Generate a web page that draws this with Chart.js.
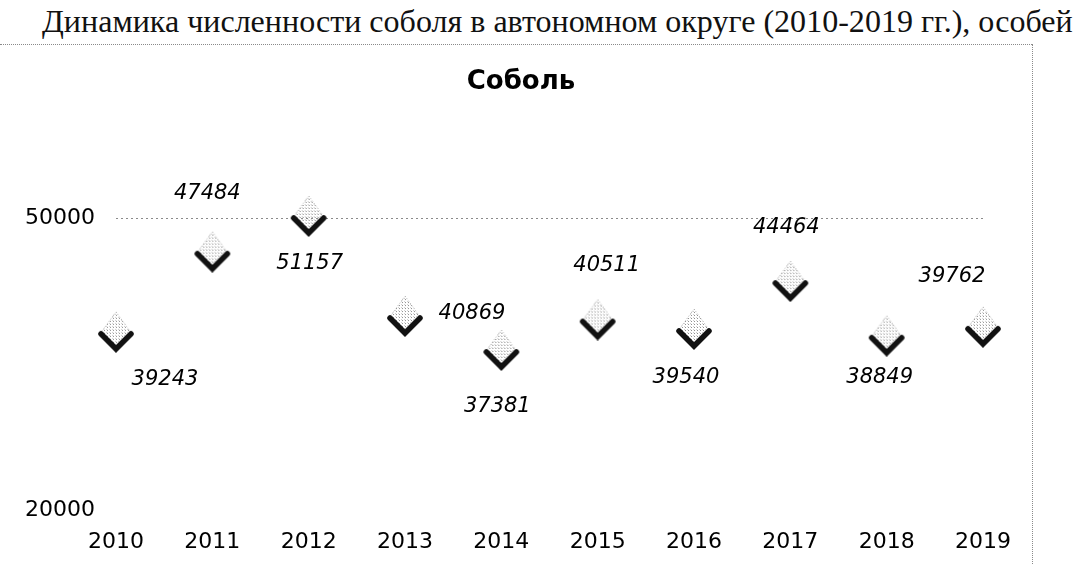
<!DOCTYPE html>
<html>
<head>
<meta charset="utf-8">
<script src="https://cdn.jsdelivr.net/npm/chart.js@4"></script>
<style>
  html, body { margin: 0; padding: 0; background: #fff; }
  body { width: 1077px; height: 564px; position: relative; overflow: hidden; }
  #header {
    position: absolute; left: 42px; top: 7px;
    font-family: "Liberation Serif", "Times New Roman", serif;
    font-size: 29px; line-height: 1; white-space: nowrap; color: #111;
  }
  #title {
    position: absolute; left: 421px; width: 200px; top: 64px;
    text-align: center; line-height: 32px;
    font-family: "DejaVu Sans", sans-serif; font-size: 26px; font-weight: bold; color: #000;
  }
  #rule { position: absolute; left: 0; top: 44px; width: 1032px; border-top: 1px dotted #8a8a8a; }
  #edge { position: absolute; left: 1032px; top: 44px; height: 520px; border-left: 1px dotted #8a8a8a; }
  #wrap { position: absolute; left: 0; top: 45px; }
  canvas { display: block; }
</style>
</head>
<body>
<div id="header">Динамика численности соболя в автономном округе (2010-2019 гг.), особей</div>
<div id="rule"></div>
<div id="edge"></div>
<div id="wrap"><canvas id="sableChart" width="1032" height="519"></canvas></div>
<div id="title">Соболь</div>
<script>
// Sable population, 2010-2019
const years = ["2010", "2011", "2012", "2013", "2014", "2015", "2016", "2017", "2018", "2019"];
const sableCounts = [39243, 47484, 51157, 40869, 37381, 40511, 39540, 44464, 38849, 39762];
const yTickLabels = [20000, 50000];

// where each value label sits relative to its point (px)
const labelOffsets = [
  [49, 57], [-5, -49], [1, 57], [67, 6], [-4, 66],
  [9, -45], [-8, 58], [-4, -45], [-7, 51], [-31, -41],
];

// stretch the header to the scanned width
function fitHeader() {
  const header = document.getElementById("header");
  const target = 1031;
  const w = header.getBoundingClientRect().width;
  const size = 29 * target / w;
  header.style.fontSize = size.toFixed(2) + "px";
  header.style.top = (32 - 0.84 * size).toFixed(1) + "px";
}

// diamond with stippled top and thick black "V" underneath
function makeMarker() {
  const c = document.createElement("canvas");
  c.width = 38;
  c.height = 60;
  const ctx = c.getContext("2d");

  const pat = document.createElement("canvas");
  pat.width = 3;
  pat.height = 3;
  const pctx = pat.getContext("2d");
  pctx.fillStyle = "#8f8f8f";
  pctx.fillRect(1, 1, 1, 1);
  pctx.fillStyle = "#cfcfcf";
  pctx.fillRect(0, 0, 1, 1);

  const top = 19, mid = 41, bot = 58, cx = 19;
  ctx.beginPath();
  ctx.moveTo(cx, top);
  ctx.lineTo(35, mid);
  ctx.lineTo(cx, bot);
  ctx.lineTo(3, mid);
  ctx.closePath();
  ctx.fillStyle = ctx.createPattern(pat, "repeat");
  ctx.fill();

  ctx.strokeStyle = "rgba(140,140,140,0.7)";
  ctx.lineWidth = 1;
  ctx.setLineDash([1, 2]);
  ctx.beginPath();
  ctx.moveTo(3, mid);
  ctx.lineTo(cx, top);
  ctx.lineTo(35, mid);
  ctx.stroke();

  ctx.setLineDash([]);
  ctx.strokeStyle = "#111";
  ctx.lineWidth = 5.5;
  ctx.lineCap = "round";
  ctx.beginPath();
  ctx.moveTo(4, mid);
  ctx.lineTo(cx, bot - 2);
  ctx.lineTo(34, mid);
  ctx.stroke();
  return c;
}

const valueLabels = {
  id: "valueLabels",
  afterDatasetsDraw(chart) {
    const ctx = chart.ctx;
    const meta = chart.getDatasetMeta(0);
    ctx.save();
    ctx.font = "italic 21px 'DejaVu Sans'";
    ctx.fillStyle = "#000";
    ctx.textAlign = "center";
    ctx.textBaseline = "middle";
    meta.data.forEach((pt, i) => {
      const off = labelOffsets[i];
      ctx.fillText(String(sableCounts[i]), pt.x + off[0], pt.y + off[1]);
    });
    ctx.restore();
  },
};

fitHeader();

new Chart(document.getElementById("sableChart"), {
  type: "line",
  data: {
    labels: years,
    datasets: [
      {
        data: sableCounts,
        showLine: false,
        pointStyle: makeMarker(),
        pointRadius: 18,
        pointHoverRadius: 18,
      },
    ],
  },
  options: {
    responsive: false,
    animation: false,
    devicePixelRatio: 1,
    layout: { padding: { left: 0, right: 49, top: 76, bottom: 0 } },
    plugins: {
      legend: { display: false },
      tooltip: { enabled: false },
      title: { display: false },
    },
    scales: {
      x: {
        offset: false,
        grid: { display: false },
        border: { display: false },
        afterFit: (scale) => { scale.height = 54; },
        ticks: {
          color: "#000",
          font: { family: "DejaVu Sans", size: 22 },
          padding: 11,
          maxRotation: 0,
          autoSkip: false,
        },
      },
      y: {
        min: 20000,
        max: 60000,
        afterFit: (scale) => { scale.width = 116; },
        grid: {
          drawTicks: false,
          color: (c) => (c.tick && c.tick.value === 50000 ? "#8a8a8a" : "rgba(0,0,0,0)"),
        },
        border: { display: false, dash: [2, 3] },
        ticks: {
          stepSize: 10000,
          color: "#000",
          font: { family: "DejaVu Sans", size: 22 },
          padding: 21,
          callback: (v) => (yTickLabels.includes(v) ? String(v) : ""),
        },
      },
    },
  },
  plugins: [valueLabels],
});
</script>
</body>
</html>
